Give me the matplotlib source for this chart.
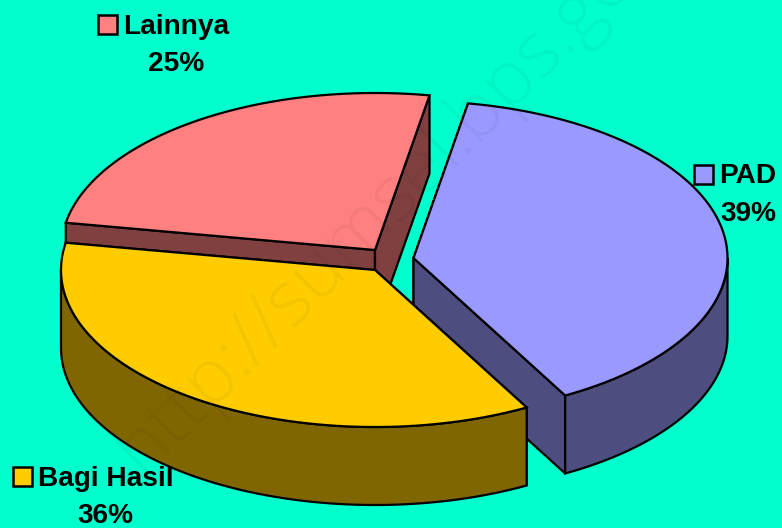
import numpy as np
import matplotlib
matplotlib.use("Agg")
import matplotlib.pyplot as plt
from matplotlib.patches import Polygon, Rectangle

categories = ["PAD", "Bagi Hasil", "Lainnya"]
values = [39.2, 35.8, 25.0]

colors_top = ["#9999FF", "#FFCC00", "#FF8080"]
colors_side = ["#4D4D80", "#806600", "#804040"]
apexes = [(413.5, 258), (375, 270), (375, 250)]
START = 80.0
A, B, DEPTH = 314.0, 157.0, 78.0
LW = 1.6
BG = "#00FFCC"

plt.rcParams["font.family"] = ["Liberation Sans", "DejaVu Sans"]
fig = plt.figure(figsize=(7.82, 5.28), dpi=100, facecolor=BG)
ax = fig.add_axes([0, 0, 1, 1])
ax.set_xlim(0, 782)
ax.set_ylim(528, 0)
ax.axis("off")

ax.text(142, 475, "http://sumsel.bps.go", rotation=45, rotation_mode="anchor",
        ha="left", va="baseline", fontsize=55, color="black", alpha=0.045, zorder=20,
        family=["Open Sans", "Liberation Sans"], fontweight="light", clip_on=True)


def arc(apex, t0, t1, dy=0.0):
    t = np.radians(np.linspace(t0, t1, 160))
    return np.column_stack([apex[0] + A * np.cos(t), apex[1] - B * np.sin(t) + dy])


def poly(pts, fc, z):
    ax.add_patch(Polygon(pts, closed=True, facecolor=fc, edgecolor="black",
                         linewidth=LW, joinstyle="miter", zorder=z))


bounds = START - np.cumsum([0] + values) * 3.6
order = [0, 2, 1]  # purple behind, then red, then yellow in front
for z, i in enumerate(order):
    base = z * 5 + 1
    t0, t1 = bounds[i], bounds[i + 1]
    apex = np.array(apexes[i], float)
    drop = np.array([0, DEPTH])
    # radial cut walls
    for t in (t0, t1):
        edge = arc(apex, t, t, 0)[0]
        poly([apex, edge, edge + drop, apex + drop], colors_side[i], base)
    # outer wall: the part of the rim facing the viewer (t in -180..0)
    lo, hi = max(t1, -180.0), min(t0, 0.0)
    if lo < hi:
        upper = arc(apex, hi, lo)
        lower = arc(apex, lo, hi, DEPTH)
        poly(np.vstack([upper, lower]), colors_side[i], base + 1)
    # top face
    poly(np.vstack([[apex], arc(apex, t0, t1)]), colors_top[i], base + 2)

# labels: marker-left, marker-top, text-left, name baseline, pct centre, pct baseline
label_pos = [(693.5, 164.5, 719.5, 183, 748.5, 221),
             (12.5, 466.5, 38.5, 486, 105.5, 523),
             (97.5, 15, 123.5, 34, 176.5, 71)]
FS = 20.2
for name, v, col, p in zip(categories, values, colors_top, label_pos):
    ax.add_patch(Rectangle((p[0], p[1]), 19, 19, facecolor=col, edgecolor="black",
                           linewidth=1.8, zorder=30))
    ax.text(p[2], p[3], name, fontsize=FS, fontweight="bold", ha="left",
            va="baseline", zorder=30)
    ax.text(p[4], p[5], f"{v:.0f}%", fontsize=FS, fontweight="bold", ha="center",
            va="baseline", zorder=30)

fig.savefig("out.png", dpi=100, facecolor=BG)
